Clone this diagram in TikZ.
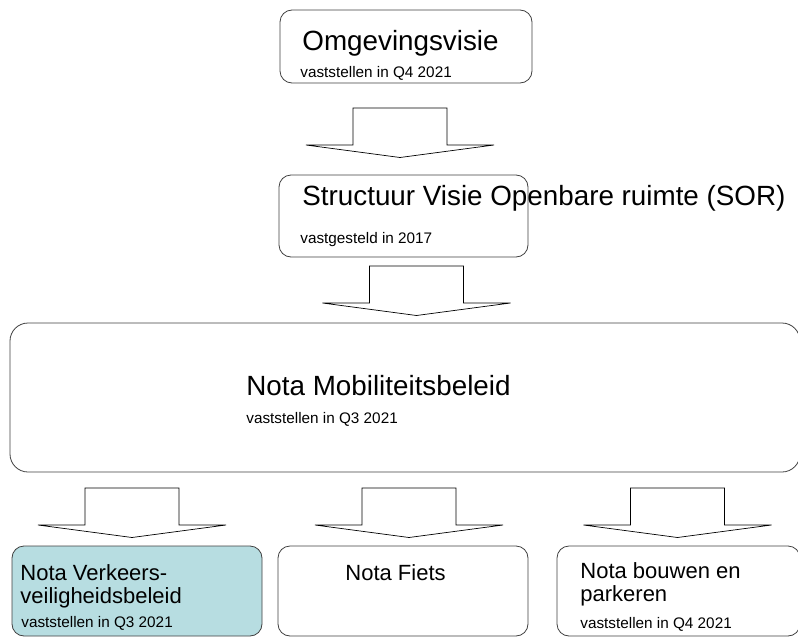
\documentclass[tikz,border=0pt]{standalone}
\usepackage{fontspec}
\setmainfont{Liberation Sans}

\definecolor{randGrijs}{RGB}{64,64,64}
\definecolor{tealVak}{RGB}{183,221,225}

\tikzset{every picture/.style={line width=0.8pt},
        box/.style={rectangle, draw=randGrijs, rounded corners=12pt, fill=white},
        titel/.style={anchor=base west, inner sep=0pt, font=\fontsize{27.8}{30}\selectfont},
        kleinTitel/.style={anchor=base west, inner sep=0pt, font=\fontsize{22}{24}\selectfont},
        datum/.style={anchor=base west, inner sep=0pt, font=\fontsize{15.3}{17}\selectfont},
        pijl/.style={draw=black, fill=white, line width=0.7pt, line join=miter}}

% block arrow pointing down, hung from its top centre
\newcommand{\blokPijl}[1]{\draw[pijl] (#1) ++(-47,0) -- ++(0,37) -- ++(-47,0) -- ++(94,12.5) -- ++(94,-12.5) -- ++(-47,0) -- ++(0,-37) -- cycle;}

\begin{document}
\begin{tikzpicture}[x=1pt,y=-1pt]
\useasboundingbox (0,0) rectangle (798,637);

% draw boxes
\node[box, minimum width=252pt, minimum height=73pt] (omg) at (406,46.5) {};
\node[box, minimum width=249pt, minimum height=82pt] (sor) at (403.5,216) {};
\node[box, rounded corners=18pt, minimum width=790pt, minimum height=149pt] (mob) at (405,397.5) {};
\node[box, fill=tealVak, minimum width=250pt, minimum height=90pt] (vvb) at (137,591) {};
\node[box, minimum width=250pt, minimum height=90pt] (fiets) at (403,591) {};
\node[box, minimum width=243pt, minimum height=90pt] (bp) at (678.5,591) {};

% draw texts
\node[titel] (omg-t) at (302,50) {Omgevingsvisie};
\node[datum] (omg-s) at (300,77.3) {vaststellen in Q4 2021};

\node[titel] (sor-t) at (302,205) {Structuur Visie Openbare ruimte (SOR)};
\node[datum] (sor-s) at (300,243.3) {vastgesteld in 2017};

\node[titel] (mob-t) at (246,395) {Nota Mobiliteitsbeleid};
\node[datum] (mob-s) at (246,423) {vaststellen in Q3 2021};

\node[kleinTitel] (vvb-t1) at (20,580) {Nota Verkeers-};
\node[kleinTitel] (vvb-t2) at (20,603.3) {veiligheidsbeleid};
\node[datum] (vvb-s) at (21,627.5) {vaststellen in Q3 2021};

\node[kleinTitel] (fiets-t) at (345,580) {Nota Fiets};

\node[kleinTitel] (bp-t1) at (580,578.3) {Nota bouwen en};
\node[kleinTitel] (bp-t2) at (580,601.7) {parkeren};
\node[datum] (bp-s) at (580,628) {vaststellen in Q4 2021};

% draw arrows between the levels
\coordinate (p-1) at (400,108);
\coordinate (p-2) at (416.5,266);
\blokPijl{p-1}
\blokPijl{p-2}

\foreach \x [count=\i from 3] in {132,409,677.5} {
    \coordinate (p-\i) at (\x,488);
    \blokPijl{p-\i}
}

\end{tikzpicture}
\end{document}
